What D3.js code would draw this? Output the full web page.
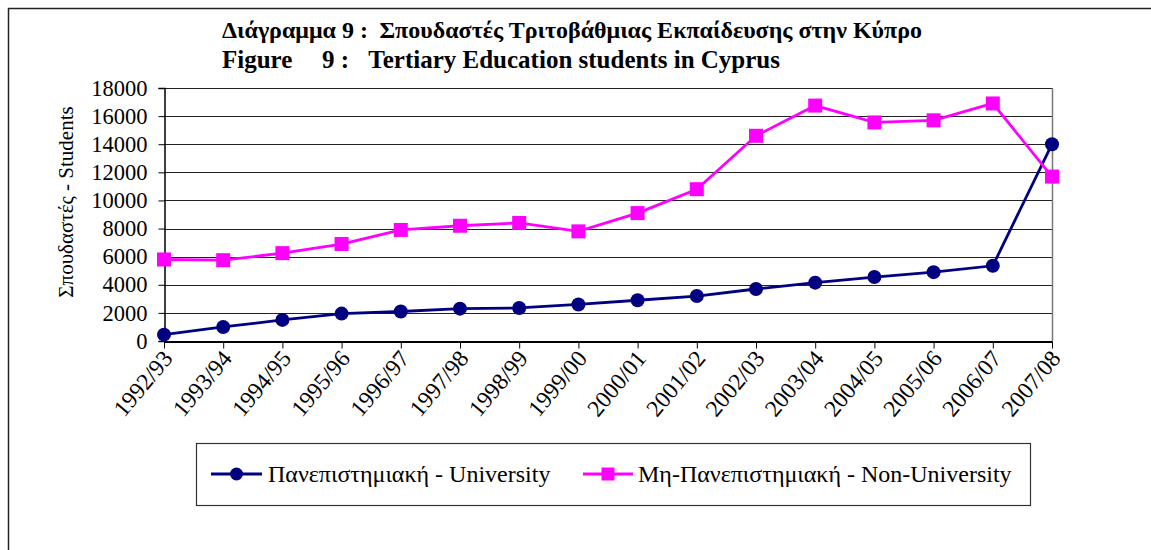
<!DOCTYPE html>
<html>
<head>
<meta charset="utf-8">
<script src="https://cdn.jsdelivr.net/npm/d3@7"></script>
<style>
  html, body { margin: 0; padding: 0; background: #fff; }
  svg { display: block; }
  text { font-family: "Liberation Serif", "Times New Roman", Times, serif; fill: #000; }
</style>
</head>
<body>
<svg id="chart" width="1151" height="550"></svg>
<script>
const categories = ["1992/93","1993/94","1994/95","1995/96","1996/97","1997/98","1998/99","1999/00",
  "2000/01","2001/02","2002/03","2003/04","2004/05","2005/06","2006/07","2007/08"];
const university = [450, 1000, 1500, 1950, 2100, 2300, 2350, 2600, 2900, 3200, 3700, 4150, 4550, 4900, 5350, 14000];
const nonUniversity = [5800, 5750, 6250, 6900, 7900, 8200, 8400, 7800, 9100, 10800, 14600, 16750, 15550, 15700, 16900, 11700];
const yTicks = [0, 2000, 4000, 6000, 8000, 10000, 12000, 14000, 16000, 18000];
const seriesNames = ["Πανεπιστημιακή - University", "Μη-Πανεπιστημιακή - Non-University"];
const seriesColors = ["#000080", "#FF00FF"];

const svg = d3.select("#chart");

// outer frame (right and bottom edges fall outside the view)
svg.append("rect").attr("x", 8.5).attr("y", 8.5).attr("width", 1200).attr("height", 600)
  .attr("fill", "none").attr("stroke", "#222").attr("stroke-width", 1.5);

// title
const tfs = 24;
svg.append("text").attr("x", 222).attr("y", 38).attr("font-weight", "bold").attr("font-size", tfs)
  .text("Διάγραμμα 9 :");
svg.append("text").attr("x", 922).attr("y", 38).attr("font-weight", "bold").attr("font-size", tfs)
  .attr("text-anchor", "end").text("Σπουδαστές Τριτοβάθμιας Εκπαίδευσης στην Κύπρο");
svg.append("text").attr("x", 222).attr("y", 68).attr("font-weight", "bold").attr("font-size", 25)
  .text("Figure");
svg.append("text").attr("x", 322).attr("y", 68).attr("font-weight", "bold").attr("font-size", 25)
  .text("9 :");
svg.append("text").attr("x", 780).attr("y", 68).attr("font-weight", "bold").attr("font-size", 25)
  .attr("text-anchor", "end").text("Tertiary Education students in Cyprus");

const L = 164, R = 1052, T = 88, B = 341;
const x = d3.scalePoint().domain(categories).range([L, R]);
const y = d3.scaleLinear().domain([0, 18000]).range([B, T]);

// gridlines
svg.append("g").selectAll("line").data(yTicks.filter(d => d > 0)).join("line")
  .attr("x1", L).attr("x2", R)
  .attr("y1", d => Math.round(y(d)) + 0.5).attr("y2", d => Math.round(y(d)) + 0.5)
  .attr("stroke", "#222").attr("stroke-width", 1);
// right border
svg.append("line").attr("x1", R + 0.5).attr("x2", R + 0.5).attr("y1", T).attr("y2", B)
  .attr("stroke", "#777").attr("stroke-width", 1.5);

// y axis
const yAxis = svg.append("g").attr("transform", `translate(${L + 0.5},0)`)
  .call(d3.axisLeft(y).tickValues(yTicks).tickFormat(d3.format("d")).tickSize(6).tickPadding(11));
yAxis.select(".domain").attr("stroke", "#000").attr("stroke-width", 1.5);
yAxis.selectAll(".tick line").attr("stroke", "#000");
yAxis.selectAll("text").attr("font-size", 22.5).attr("fill", "#000");

// x axis
const xAxis = svg.append("g").attr("transform", `translate(0,${B + 0.5})`)
  .call(d3.axisBottom(x).tickSize(7).tickSizeOuter(0).tickFormat(() => ""));
xAxis.select(".domain").attr("stroke", "#000").attr("stroke-width", 2);
xAxis.selectAll(".tick line").attr("stroke", "#000");
svg.append("g").selectAll("text").data(categories).join("text")
  .attr("transform", d => `translate(${x(d) - 1},${B + 9}) rotate(-50)`)
  .attr("text-anchor", "end").attr("dy", "0.6em")
  .attr("font-size", 23.5)
  .text(d => d);

// y label
svg.append("text")
  .attr("transform", `translate(73,${202}) rotate(-90)`)
  .attr("text-anchor", "middle").attr("font-size", 21)
  .text("Σπουδαστές - Students");

// series
const line = d3.line().x((d, i) => x(categories[i])).y(d => y(d));
svg.append("path").datum(university).attr("d", line)
  .attr("fill", "none").attr("stroke", seriesColors[0]).attr("stroke-width", 2.8);
svg.append("path").datum(nonUniversity).attr("d", line)
  .attr("fill", "none").attr("stroke", seriesColors[1]).attr("stroke-width", 2.8);

svg.append("g").selectAll("rect").data(nonUniversity).join("rect")
  .attr("x", (d, i) => x(categories[i]) - 7).attr("y", d => y(d) - 7)
  .attr("width", 14).attr("height", 14).attr("fill", seriesColors[1]);
svg.append("g").selectAll("circle").data(university).join("circle")
  .attr("cx", (d, i) => x(categories[i])).attr("cy", d => y(d)).attr("r", 7)
  .attr("fill", seriesColors[0]);

// legend
const lg = svg.append("g");
lg.append("rect").attr("x", 196.5).attr("y", 443.5).attr("width", 834).attr("height", 62)
  .attr("fill", "#fff").attr("stroke", "#333").attr("stroke-width", 1.2);
const ly = 474;
const entries = [
  { x1: 211, x2: 262, tx: 268 },
  { x1: 583, x2: 633, tx: 638 }
];
entries.forEach((e, i) => {
  lg.append("line").attr("x1", e.x1).attr("x2", e.x2).attr("y1", ly).attr("y2", ly)
    .attr("stroke", seriesColors[i]).attr("stroke-width", 2.8);
  const cx = (e.x1 + e.x2) / 2;
  if (i === 0) lg.append("circle").attr("cx", cx).attr("cy", ly).attr("r", 6.5).attr("fill", seriesColors[0]);
  else lg.append("rect").attr("x", cx - 6.5).attr("y", ly - 6.5).attr("width", 13).attr("height", 13).attr("fill", seriesColors[1]);
  lg.append("text").attr("x", e.tx).attr("y", ly + 8).attr("font-size", 24).text(seriesNames[i]);
});
</script>
</body>
</html>
